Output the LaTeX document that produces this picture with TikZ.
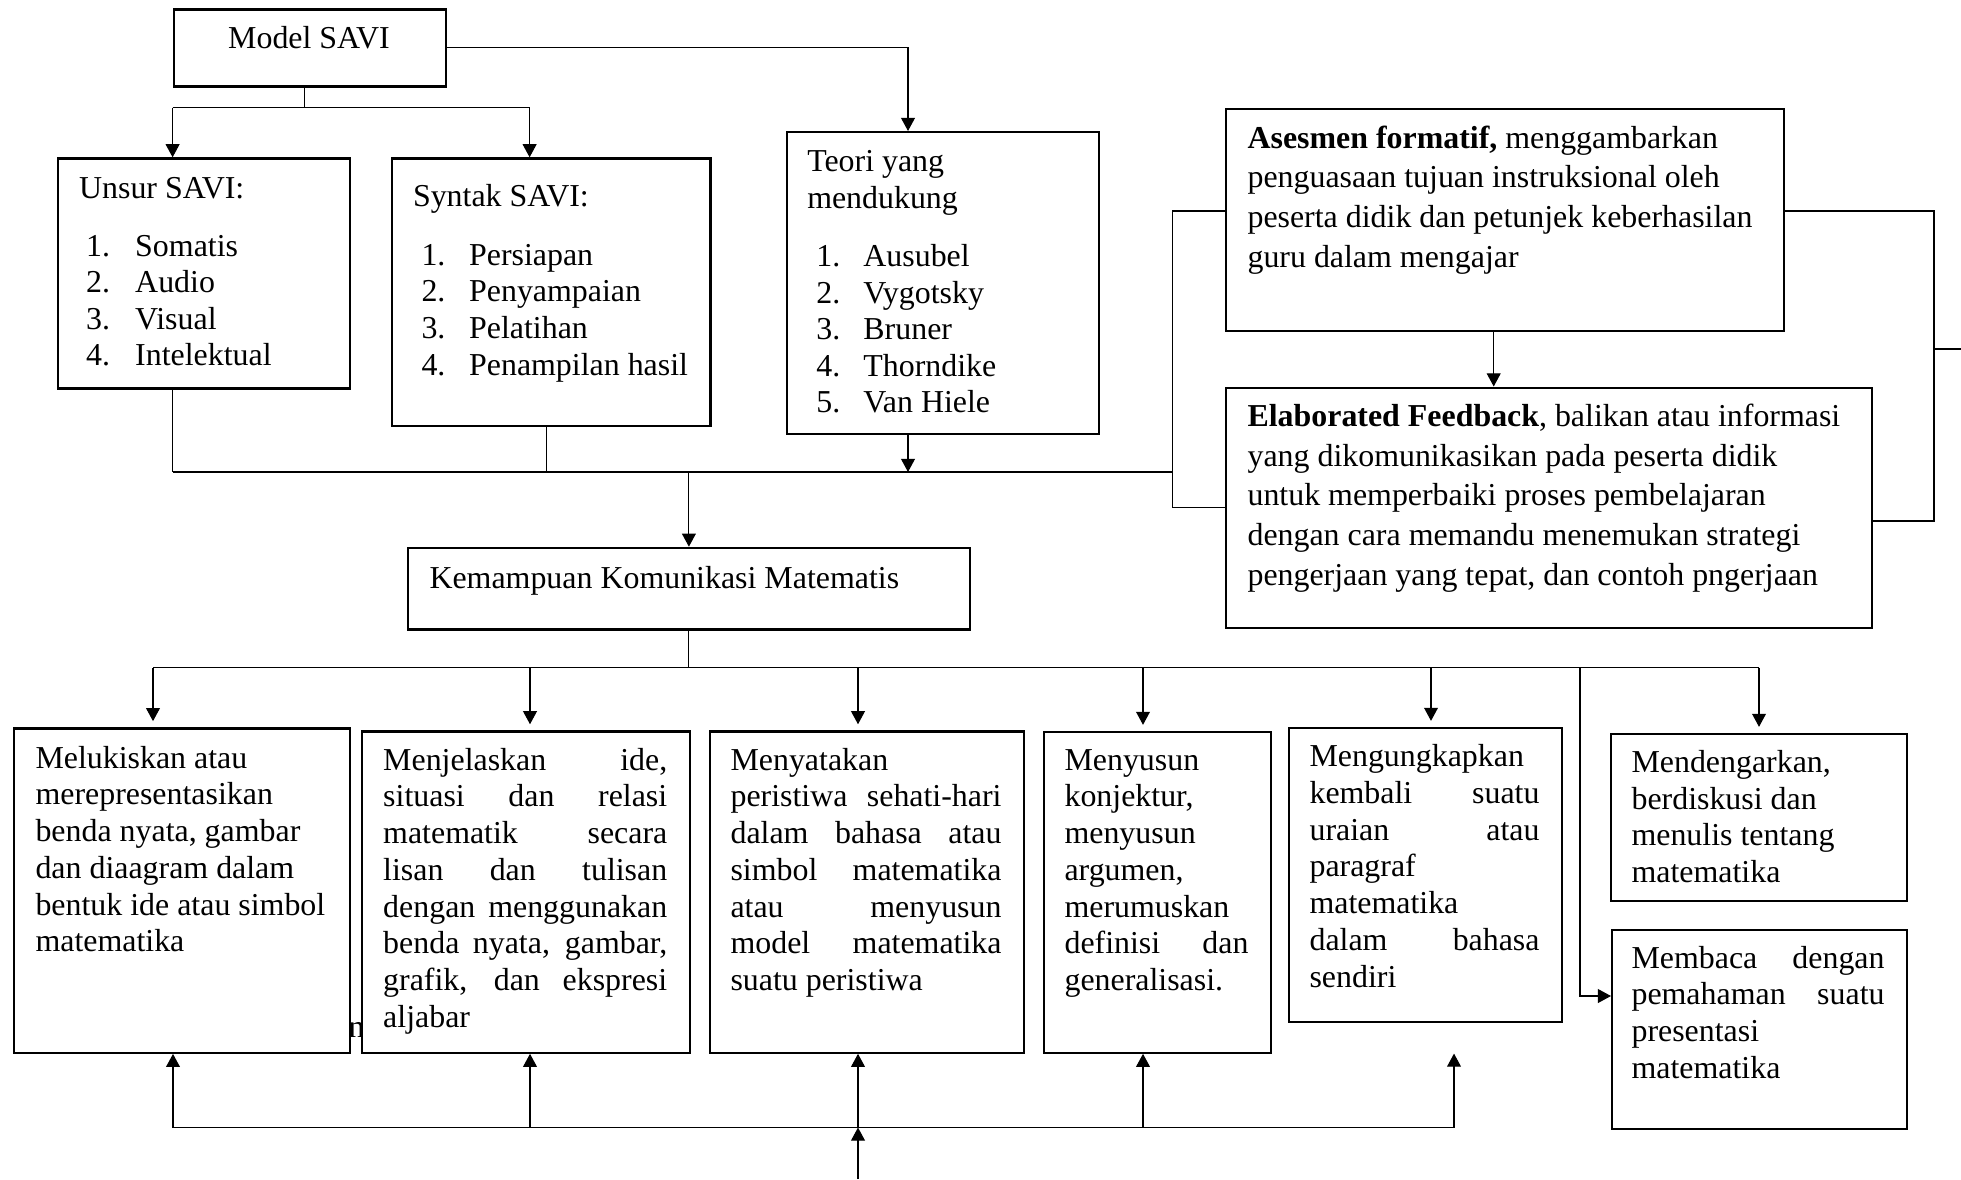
\documentclass[tikz,border=0pt]{standalone}
\usepackage{fontspec}
\setmainfont{Liberation Serif}
\usetikzlibrary{arrows.meta}
\newlength{\px}
\setlength{\px}{0.013cm}
\newcommand{\spread}[2]{\makebox[#1\px][s]{#2}}
\newcommand{\lines}[1]{\begin{tabular}[t]{@{}l@{}}#1\end{tabular}}
\begin{document}
\begin{tikzpicture}[x=0.013cm,y=-0.013cm,
    box/.style={draw,line width=0.85pt,fill=white,inner sep=0pt,anchor=north west},
    txt/.style={anchor=base west,inner sep=0pt,font=\fontsize{11.8}{13.6}\selectfont},
    wide/.style={txt,font=\fontsize{11.8}{14.7}\selectfont},
    con/.style={line width=0.4pt},
    arr/.style={con,-{Triangle[length=0.17cm,width=0.18cm]}}]
    \useasboundingbox (0,0) rectangle (1961,1179);
    \coordinate (bus1) at (0,107.7);
    \coordinate (bus2) at (0,472);
    \coordinate (bus3) at (0,667.5);
    \coordinate (bus4) at (0,1127.5);
    \coordinate (xm) at (304.5,0);
    \coordinate (xu) at (172.6,0);
    \coordinate (xs) at (529.6,0);
    \coordinate (xs2) at (546.5,0);
    \coordinate (xt) at (908,0);
    \coordinate (xl) at (1172.5,0);
    \coordinate (xr) at (1934,0);
    \coordinate (xa) at (1493.7,0);
    \coordinate (ya) at (0,211);
    \coordinate (yr) at (0,521);
    \coordinate (ym) at (0,996);
    \coordinate (exit) at (1961,349);
    \coordinate (in) at (858,1179);
    % stray letter
    \node[txt] (stray) at (348,1037) {n};
    % Model SAVI
    \node[box,minimum width=272\px,minimum height=77\px] (model) at (172.6,8.3) {};
    \node[txt,anchor=base] (model-t) at (309,48.3) {Model SAVI};
    % Unsur SAVI
    \node[box,minimum width=292\px,minimum height=230\px] (unsur) at (56.8,157.3) {};
    \node[txt] (unsur-t) at (78.6,198.3) {Unsur SAVI:};
    \foreach \t [count=\i] in {Somatis,Audio,Visual,Intelektual} {
        \node[txt] (unsur-n\i) at (85.6,{256.5+36.4*(\i-1)}) {\i.};
        \node[txt] (unsur-i\i) at (134.7,{256.5+36.4*(\i-1)}) {\t};
    }
    % Syntak SAVI
    \node[box,minimum width=318.5\px,minimum height=267.7\px] (syntak) at (390.7,157.3) {};
    \node[txt] (syntak-t) at (412.5,206.7) {Syntak SAVI:};
    \foreach \t [count=\i] in {Persiapan,Penyampaian,Pelatihan,Penampilan hasil} {
        \node[txt] (syntak-n\i) at (421,{265+36.7*(\i-1)}) {\i.};
        \node[txt] (syntak-i\i) at (468.6,{265+36.7*(\i-1)}) {\t};
    }
    % Teori
    \node[box,minimum width=312\px,minimum height=301.7\px] (teori) at (785.7,131) {};
    \node[txt] (teori-t) at (806.7,171.7) {\lines{Teori yang\\mendukung}};
    \foreach \t [count=\i] in {Ausubel,Vygotsky,Bruner,Thorndike,Van Hiele} {
        \node[txt] (teori-n\i) at (815.8,{266.7+36.5*(\i-1)}) {\i.};
        \node[txt] (teori-i\i) at (862.9,{266.7+36.5*(\i-1)}) {\t};
    }
    % Asesmen formatif
    \node[box,minimum width=557.7\px,minimum height=222\px] (asesmen) at (1225,108) {};
    \node[wide] (asesmen-t) at (1247,148) {\lines{\textbf{Asesmen formatif,} menggambarkan\\penguasaan tujuan instruksional oleh\\peserta didik dan petunjek keberhasilan\\guru dalam mengajar}};
    % Elaborated Feedback
    \node[box,minimum width=645.5\px,minimum height=240.5\px] (elab) at (1225,386.5) {};
    \node[wide] (elab-t) at (1247,426.4) {\lines{\textbf{Elaborated Feedback}, balikan atau informasi\\yang dikomunikasikan pada peserta didik\\untuk memperbaiki proses pembelajaran\\dengan cara memandu menemukan strategi\\pengerjaan yang tepat, dan contoh pngerjaan}};
    % Kemampuan Komunikasi Matematis
    \node[box,minimum width=562.5\px,minimum height=81.6\px] (kem) at (406.5,546.7) {};
    \node[txt] (kem-t) at (429,588) {Kemampuan Komunikasi Matematis};
    % indikator
    \node[box,minimum width=336.2\px,minimum height=324.3\px] (melukis) at (12.8,727.3) {};
    \node[txt] (melukis-t) at (35,768) {\lines{Melukiskan atau\\merepresentasikan\\benda nyata, gambar\\dan diaagram dalam\\bentuk ide atau simbol\\matematika}};
    \node[box,minimum width=327.8\px,minimum height=321.1\px] (menjelas) at (361,730.4) {};
    \node[txt] (menjelas-t) at (382.7,770) {\lines{\spread{284}{Menjelaskan ide,}\\\spread{284}{situasi dan relasi}\\\spread{284}{matematik secara}\\\spread{284}{lisan dan tulisan}\\\spread{284}{dengan menggunakan}\\\spread{284}{benda nyata, gambar,}\\\spread{284}{grafik, dan ekspresi}\\aljabar}};
    \node[box,minimum width=313.7\px,minimum height=321.1\px] (menyatakan) at (709,730.4) {};
    \node[txt] (menyatakan-t) at (730,770) {\lines{Menyatakan\\\spread{271}{peristiwa sehati-hari}\\\spread{271}{dalam bahasa atau}\\\spread{271}{simbol matematika}\\\spread{271}{atau menyusun}\\\spread{271}{model matematika}\\suatu peristiwa}};
    \node[box,minimum width=227\px,minimum height=320.5\px] (menyusun) at (1043,731) {};
    \node[txt] (menyusun-t) at (1064,770) {\lines{Menyusun\\konjektur,\\menyusun\\argumen,\\merumuskan\\\spread{184}{definisi dan}\\generalisasi.}};
    \node[box,minimum width=273\px,minimum height=293.5\px] (mengungkap) at (1288,727) {};
    \node[txt] (mengungkap-t) at (1309,766.5) {\lines{Mengungkapkan\\\spread{230}{kembali suatu}\\\spread{230}{uraian atau}\\paragraf\\matematika\\\spread{230}{dalam bahasa}\\sendiri}};
    \node[box,minimum width=295.6\px,minimum height=167\px] (mendengar) at (1610,733) {};
    \node[txt] (mendengar-t) at (1631,772.3) {\lines{Mendengarkan,\\berdiskusi dan\\menulis tentang\\matematika}};
    \node[box,minimum width=295\px,minimum height=198.7\px] (membaca) at (1611,928.8) {};
    \node[txt] (membaca-t) at (1631,968) {\lines{\spread{253}{Membaca dengan}\\\spread{253}{pemahaman suatu}\\presentasi\\matematika}};
    % Model SAVI ke bawah
    \draw[arr] (model.east) -| (xt |- teori.north);
    \draw[con] (xm |- model.south) -- (xm |- bus1);
    \draw[con] (xu |- bus1) -- (xs |- bus1);
    \draw[arr] (xu |- bus1) -- (xu |- unsur.north);
    \draw[arr] (xs |- bus1) -- (xs |- syntak.north);
    % ke Kemampuan
    \draw[con] (xu |- unsur.south) -- (xu |- bus2);
    \draw[con] (xs2 |- syntak.south) -- (xs2 |- bus2);
    \draw[arr] (xt |- teori.south) -- (xt |- bus2);
    \draw[con] (xu |- bus2) -- (xl |- bus2);
    \draw[arr] (kem.north |- bus2) -- (kem.north);
    % asesmen dan feedback
    \draw[arr] (xa |- asesmen.south) -- (xa |- elab.north);
    \draw[con] (asesmen.west |- ya) -| (xl |- elab.west) -- (elab.west);
    \draw[con] (asesmen.east |- ya) -| (xr |- yr) -- (elab.east |- yr);
    \draw[con] (xr |- exit) -- (exit);
    % Kemampuan ke indikator
    \draw[con] (kem.south) -- (kem.south |- bus3);
    \draw[con] (153,0 |- bus3) -- (1759,0 |- bus3);
    \foreach \x/\b in {153/melukis,530/menjelas,858/menyatakan,1143/menyusun,1431/mengungkap,1759/mendengar}
        \draw[arr,shorten >=0.08cm] (\x,0 |- bus3) -- (\x,0 |- \b.north);
    \draw[arr] (1580,0 |- bus3) |- (membaca.west |- ym);
    % dari bawah
    \draw[arr] (in) -- (in |- bus4);
    \draw[arr,shorten >=0.4cm] (173,0 |- bus4) -| (1454,0 |- mengungkap.south);
    \foreach \x/\b in {173/melukis,530/menjelas,858/menyatakan,1143/menyusun}
        \draw[arr] (\x,0 |- bus4) -- (\x,0 |- \b.south);
\end{tikzpicture}
\end{document}
